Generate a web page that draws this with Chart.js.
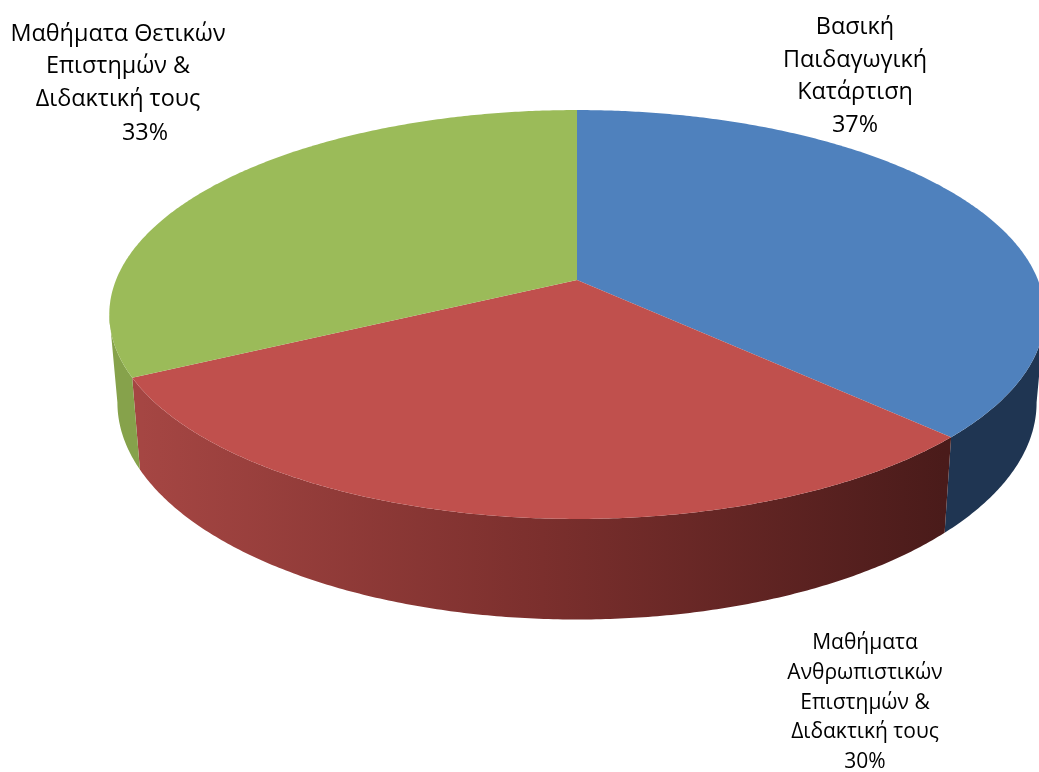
<!DOCTYPE html>
<html><head><meta charset="utf-8">
<style>html,body{margin:0;padding:0;background:#fff;overflow:hidden}canvas{display:block}</style>
<script src="https://cdn.jsdelivr.net/npm/chart.js@4"></script>
</head><body><canvas id="c" width="1039" height="772"></canvas>
<script>
const categories = [
  ["Βασική","Παιδαγωγική","Κατάρτιση"],
  ["Μαθήματα","Ανθρωπιστικών","Επιστημών &","Διδακτική τους"],
  ["Μαθήματα Θετικών","Επιστημών &","Διδακτική τους"]
];
const values = [37.3, 30.2, 32.5];
const topColors = ["#4f81bd","#c0504d","#9bbb59"];

const K = -0.1687;
const topFace = {cx:577, b:280, a:151.4, c:461};
const baseFace = {cx:577, b:366, a:149, c:453};
function project(f, theta){
  const u=Math.sin(theta), v=-Math.cos(theta), d=1+K*v;
  return [f.cx+f.c*u/d, (f.b+f.a*v)/d];
}
const labelBoxes = [
  {x:855, size:23.4, y:[27,60,92,125]},
  {x:865, size:21, y:[643,673,703,732,762]},
  {x:118, size:23.4, y:[34,66,99,133], pctX:145}
];
function wallPaint(ctx,i){
  if(i===0) return "#1f3552";
  if(i===1){const g=ctx.createLinearGradient(141,0,944,0);
    g.addColorStop(0,"#a54643");g.addColorStop(.5,"#7b2f2d");g.addColorStop(1,"#4a1b1a");return g;}
  return "#86a24b";
}
const pie3d = {
  id:'pie3d',
  beforeDatasetDraw(){return false;},
  afterDatasetsDraw(chart){
    const ctx=chart.ctx, arcs=chart.getDatasetMeta(0).data, STEP=Math.PI/360;
    const ang=arcs.map(e=>[e.startAngle+Math.PI/2,e.endAngle+Math.PI/2]);
    const fmin=Math.acos(K), fmax=2*Math.PI-fmin;
    ctx.save();
    ang.forEach(([s,e],i)=>{
      const a=Math.max(s,fmin), b=Math.min(e,fmax);
      if(b<=a) return;
      ctx.beginPath();
      for(let t=a;t<b;t+=STEP){const p=project(topFace,t);ctx.lineTo(p[0],p[1]);}
      let p=project(topFace,b);ctx.lineTo(p[0],p[1]);
      p=project(baseFace,b);ctx.lineTo(p[0],p[1]);
      for(let t=b;t>a;t-=STEP){const q=project(baseFace,t);ctx.lineTo(q[0],q[1]);}
      p=project(baseFace,a);ctx.lineTo(p[0],p[1]);
      ctx.closePath();
      ctx.fillStyle=wallPaint(ctx,i);ctx.fill();
    });
    ang.forEach(([s,e],i)=>{
      ctx.beginPath();
      ctx.moveTo(topFace.cx,topFace.b);
      for(let t=s;t<e;t+=STEP){const p=project(topFace,t);ctx.lineTo(p[0],p[1]);}
      const p=project(topFace,e);ctx.lineTo(p[0],p[1]);
      ctx.closePath();
      ctx.fillStyle=topColors[i];ctx.fill();
    });
    ctx.fillStyle="#000";ctx.textAlign="center";ctx.textBaseline="middle";
    const total=values.reduce((x,y)=>x+y,0);
    categories.forEach((lines,i)=>{
      const box=labelBoxes[i];
      ctx.font=box.size+'px "Open Sans"';
      lines.forEach((t,j)=>ctx.fillText(t,box.x,box.y[j]));
      ctx.fillText(Math.round(values[i]/total*100)+"%",box.pctX||box.x,box.y[lines.length]);
    });
    ctx.restore();
  }
};
new Chart(document.getElementById('c'),{
  type:'pie',
  data:{labels:categories.map(l=>l.join(" ")),datasets:[{data:values,backgroundColor:topColors,borderWidth:0}]},
  options:{responsive:false,animation:false,plugins:{legend:{display:false},tooltip:{enabled:false},title:{display:false}}},
  plugins:[pie3d]
});
</script></body></html>
